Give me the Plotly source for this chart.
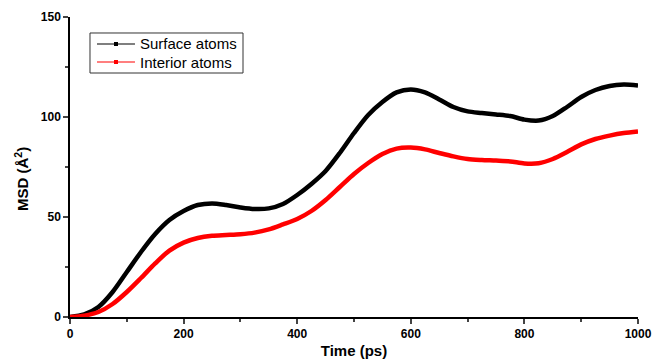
import plotly.graph_objects as go

time_ps = [0, 25, 50, 75, 100, 125, 150, 175, 200, 225, 250, 275, 300, 325, 350, 375, 400, 425, 450, 475,
           500, 525, 550, 575, 600, 625, 650, 675, 700, 725, 750, 775, 800, 825, 850, 875, 900, 925, 950, 975, 1000]
surface = [0, 1.3, 5, 12.5, 22.5, 32.5, 41.5, 48.5, 53, 56, 56.8, 56, 54.8, 54, 54.3, 56.5, 61, 66.5, 73, 82,
           92, 101, 107.5, 112.3, 113.8, 112.3, 108.8, 105, 102.8, 102, 101.3, 100.5, 98.7, 98.2, 100.5, 105, 110, 113.5, 115.5, 116.2, 115.8]
interior = [0, 0.7, 2.5, 6.5, 12.5, 19.5, 26.8, 33.2, 37.2, 39.5, 40.6, 41, 41.4, 42.2, 43.8, 46.3, 49, 53, 58.5, 65,
            71.5, 77, 81.5, 84.2, 84.7, 83.8, 82, 80.3, 79, 78.5, 78.2, 77.8, 76.8, 76.9, 79, 82.5, 86.3, 89, 90.7, 92, 92.8]

series_names = ["Surface atoms", "Interior atoms"]
series_colors = ["#000000", "#ff0000"]

fig = go.Figure()
for name, vals, col in zip(series_names, [surface, interior], series_colors):
    fig.add_trace(go.Scatter(x=time_ps, y=vals, mode="lines", name=name,
                             line=dict(color=col, width=4.5, shape="spline", smoothing=0.8),
                             showlegend=False, hoverinfo="skip"))

# manual legend (paper coordinates)
fig.add_shape(type="rect", xref="paper", yref="paper", x0=0.0352, x1=0.3046, y0=0.8133, y1=0.9467,
              line=dict(color="#333", width=1), fillcolor="white", layer="above")
leg_y = [0.91, 0.85]
for name, col, yy in zip(series_names, series_colors, leg_y):
    fig.add_shape(type="line", xref="paper", yref="paper", x0=0.0475, x1=0.1144, y0=yy, y1=yy,
                  line=dict(color=col, width=1.2), layer="above")
    fig.add_shape(type="rect", xref="paper", yref="paper", xsizemode="pixel", ysizemode="pixel",
                  xanchor=0.081, yanchor=yy, x0=-2, x1=2, y0=-2, y1=2,
                  line=dict(width=0), fillcolor=col, layer="above")
    fig.add_annotation(x=0.1197, y=yy, xref="paper", yref="paper", text=name, showarrow=False,
                       xanchor="left", yanchor="middle", font=dict(size=15, color="#000", family="Liberation Sans, Arial"))

# y-axis title
fig.add_annotation(x=-0.0863, y=0.46, xref="paper", yref="paper", text="<b>MSD (Å<sup>2</sup>)</b>",
                   showarrow=False, textangle=-90, xanchor="center", yanchor="middle",
                   font=dict(size=15, color="#000", family="Liberation Sans, Arial"))

fig.update_layout(
    width=653, height=359,
    margin=dict(l=70, r=15, t=17, b=42, autoexpand=False),
    paper_bgcolor="white", plot_bgcolor="white",
    font=dict(family="Liberation Sans, Arial", color="#000"),
    showlegend=False,
    xaxis=dict(range=[0, 1000], tickvals=[0, 200, 400, 600, 800, 1000], showgrid=False, zeroline=False,
               automargin=False,
               showline=True, linecolor="#000", linewidth=1.5, ticks="outside", ticklen=5, tickwidth=1.5,
               tickfont=dict(size=12, family="Liberation Sans, Arial", weight="bold"),
               minor=dict(tickvals=[100, 300, 500, 700, 900], ticks="outside", ticklen=3, tickwidth=1.5),
               title=dict(text="<b>Time (ps)</b>", font=dict(size=15), standoff=15)),
    yaxis=dict(range=[0, 150], tickvals=[0, 50, 100, 150], showgrid=False, zeroline=False,
               automargin=False,
               showline=True, linecolor="#000", linewidth=1.5, ticks="outside", ticklen=5, tickwidth=1.5,
               tickfont=dict(size=12, family="Liberation Sans, Arial", weight="bold"),
               minor=dict(tickvals=[25, 75, 125], ticks="outside", ticklen=3, tickwidth=1.5)),
)

fig.write_html("out.html")
